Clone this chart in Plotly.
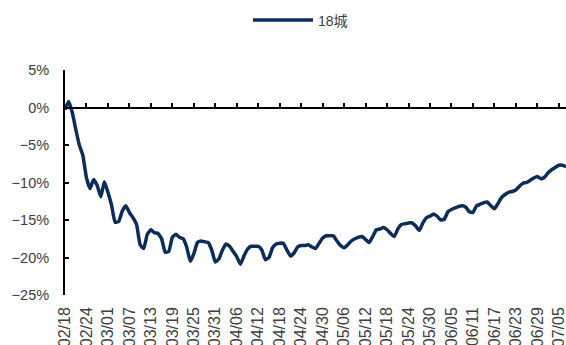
import pandas as pd
import plotly.graph_objects as go

# Daily index, 18 cities, % change (2020-02-18 onwards)
start_date = "2020-02-18"
values = [
    -0.3, 0.8, -0.6, -2.9, -5.0, -6.4, -9.4, -10.8, -9.6, -10.4,
    -11.9, -9.9, -11.3, -13.0, -15.3, -15.2, -13.8, -13.1, -14.0, -14.7,
    -15.6, -18.3, -18.8, -16.9, -16.3, -16.7, -16.8, -17.5, -19.3, -19.2,
    -17.3, -16.9, -17.3, -17.5, -18.6, -20.5, -19.5, -18.0, -17.8, -17.9,
    -18.0, -19.0, -20.6, -20.2, -19.0, -18.2, -18.5, -19.2, -19.9, -20.9,
    -19.8, -18.9, -18.5, -18.5, -18.5, -19.0, -20.3, -20.0, -18.7, -18.2,
    -18.1, -18.1, -19.0, -19.8, -19.4, -18.6, -18.4, -18.4, -18.3, -18.6,
    -18.8, -18.1, -17.4, -17.1, -17.1, -17.1, -17.8, -18.4, -18.7, -18.3,
    -17.8, -17.5, -17.3, -17.2, -17.6, -18.0, -17.2, -16.3, -16.2, -16.0,
    -16.3, -16.8, -17.2, -16.2, -15.6, -15.5, -15.4, -15.4, -15.8, -16.4,
    -15.4, -14.7, -14.5, -14.2, -14.5, -15.0, -14.9, -13.9, -13.6, -13.4,
    -13.2, -13.1, -13.3, -13.9, -14.0, -13.1, -12.9, -12.7, -12.6, -13.1,
    -13.5, -12.8, -12.0, -11.6, -11.3, -11.2, -11.0, -10.5, -10.1, -10.0,
    -9.7, -9.4, -9.2, -9.5, -9.3, -8.7, -8.3, -8.0, -7.7, -7.7,
    -7.9,
]
dates = [d.strftime("%m/%d") for d in pd.date_range(start_date, periods=len(values))]
tick_labels = dates[::6][:24]

y_tick_vals = [5, 0, -5, -10, -15, -20, -25]
y_tick_text = ["5%", "0%", "\u22125%", "\u221210%", "\u221215%", "\u221220%", "\u221225%"]

series_name = "18城"
line_color = "#0c2c5a"
text_color = "#404040"
font_family = "Liberation Sans, Arial, Noto Sans CJK SC"

fig = go.Figure()
fig.add_trace(go.Scatter(
    x=dates, y=values, mode="lines", name=series_name,
    line=dict(color=line_color, width=3.5, shape="spline", smoothing=0.4),
))
# helper trace so the label axis at the bottom shares the same categories
fig.add_trace(go.Scatter(
    x=dates, y=[None] * len(dates), xaxis="x2", mode="lines",
    showlegend=False, hoverinfo="skip",
))

x_range = [0, len(values) - 1]
zero_pos = (0 - (-25)) / (5 - (-25))

fig.update_layout(
    width=566, height=345,
    margin=dict(l=65, r=0, t=70, b=50),
    paper_bgcolor="white", plot_bgcolor="white",
    font=dict(family=font_family, size=14, color=text_color),
    showlegend=True,
    legend=dict(
        orientation="h", x=0.47, xanchor="center", y=1.22, yanchor="middle",
        font=dict(size=14, color=text_color), itemwidth=60,
    ),
    xaxis=dict(
        type="category", range=x_range,
        anchor="free", position=zero_pos,
        showline=True, linecolor="black", linewidth=2,
        ticks="inside", ticklen=4, tickwidth=1.5, tickcolor="black",
        tickvals=tick_labels, showticklabels=False,
        showgrid=False, zeroline=False,
    ),
    xaxis2=dict(
        type="category", range=x_range, overlaying="x", anchor="y", side="bottom",
        showline=False, ticks="", showgrid=False, zeroline=False,
        tickvals=tick_labels, ticktext=tick_labels, tickangle=-90,
        tickfont=dict(size=16, color=text_color), automargin=False,
        ticklabelstandoff=8,
    ),
    yaxis=dict(
        range=[-25, 5], tickvals=y_tick_vals, ticktext=y_tick_text,
        showline=True, linecolor="black", linewidth=2,
        ticks="inside", ticklen=4, tickwidth=1.5, tickcolor="black",
        showgrid=False, zeroline=False, automargin=False,
        ticklabelstandoff=11,
        tickfont=dict(size=14.5, color=text_color),
    ),
)

fig.write_html("out.html")
